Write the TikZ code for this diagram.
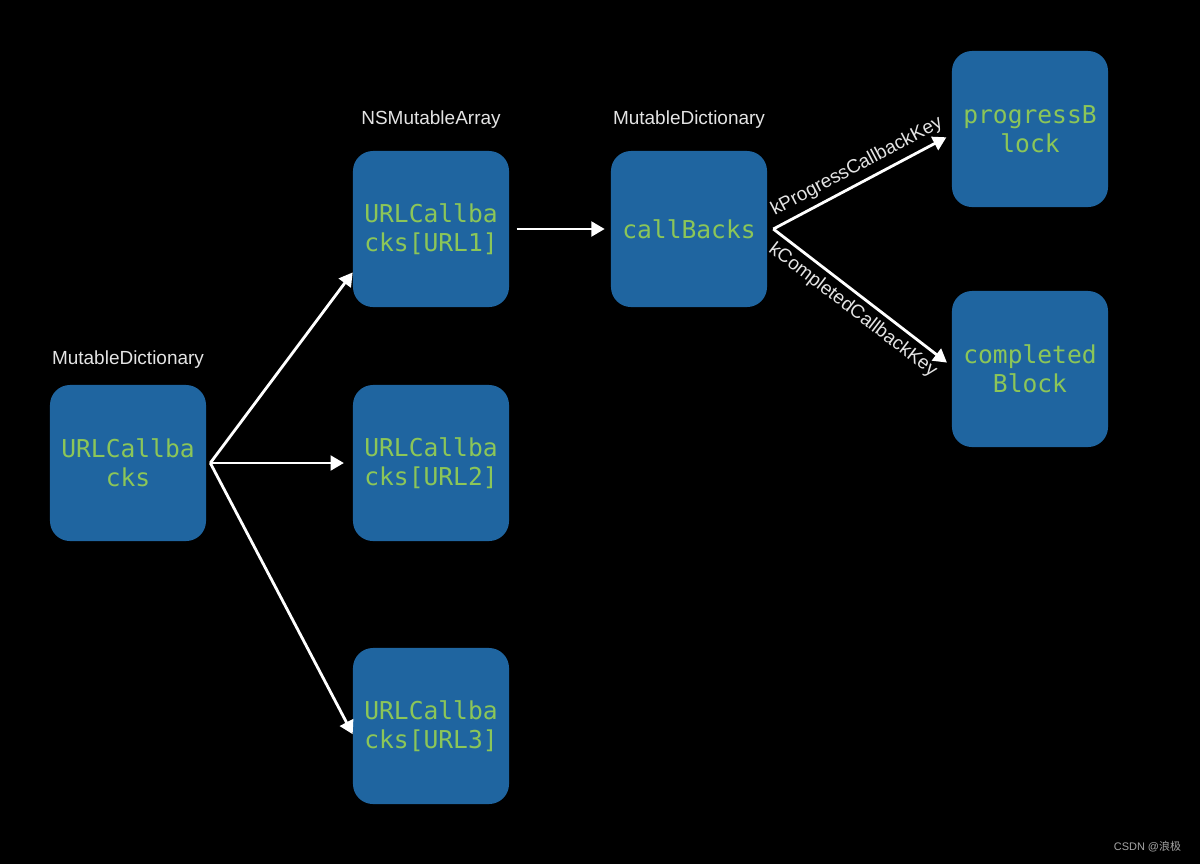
\documentclass[tikz,border=0pt]{standalone}
\usepackage{fontspec}
\setmainfont{Liberation Sans}
\setmonofont{DejaVu Sans Mono}
\newfontfamily\cjkfont{Noto Sans CJK SC}
\usepackage{tikz}
\usetikzlibrary{calc}
\usetikzlibrary{positioning}
\usetikzlibrary{arrows.meta}
\definecolor{azulcaja}{RGB}{31,101,160}
\definecolor{verdetexto}{RGB}{140,198,88}
\definecolor{grisclaro}{RGB}{228,228,228}

\begin{document}
\begin{tikzpicture}[x=0.025cm,y=-0.025cm,
	caja/.style={rectangle,rounded corners=0.5cm,fill=azulcaja,minimum width=3.9cm,minimum height=3.9cm,align=center,text=verdetexto,font=\ttfamily\fontsize{17.5}{20.6}\selectfont},
	rotulo/.style={text=grisclaro,font=\fontsize{13.5}{16}\selectfont},
	flecha/.style={white,line width=2pt,-{Triangle[length=9.5pt,width=10.5pt]}}]
				\fill[black] (0,0) rectangle (1200,864);
				\useasboundingbox (0,0) rectangle (1200,864);
				\path 
				(128,463) node(a) [caja] {URLCallba\\cks}
				(431,229) node(b) [caja] {URLCallba\\cks[URL1]}
				(431,463) node(c) [caja] {URLCallba\\cks[URL2]}
				(431,726) node(d) [caja] {URLCallba\\cks[URL3]}
				(689,229) node(e) [caja] {callBacks}
				(1030,129) node(f) [caja] {progressB\\lock}
				(1030,369) node(g) [caja] {completed\\Block};
				\path 
				(128,360) node(ra) [rotulo] {MutableDictionary}
				(431,120) node(rb) [rotulo] {NSMutableArray}
				(689,120) node(re) [rotulo] {MutableDictionary}
				(1186,847) node(h) [anchor=east,text=gray!70,font=\fontsize{7.8}{9}\selectfont] {CSDN @{\cjkfont 浪极}};
				\draw   
				([xshift=1mm]a.east) edge[flecha] (b.209)
				edge[flecha,shorten >=0.22cm] (c.west)
				edge[flecha] (d.186);
				\draw (b.east) edge[flecha,shorten <=0.18cm,shorten >=0.15cm] (e.west);
				\draw   
				([xshift=0.15cm]e.east) edge[flecha,shorten >=0.15cm] node[rotulo,sloped,above,inner sep=4pt,pos=0.51] {kProgressCallbackKey} (f.184)
				edge[flecha,shorten >=0.15cm] node[rotulo,sloped,below,inner sep=4pt,pos=0.5] {kCompletedCallbackKey} (g.178);
			\end{tikzpicture}
\end{document}
